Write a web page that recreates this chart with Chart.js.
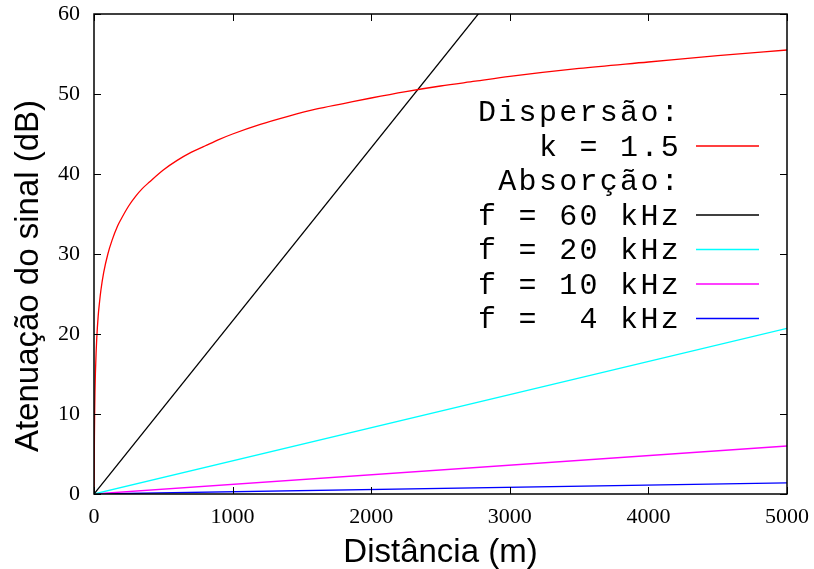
<!DOCTYPE html>
<html>
<head>
<meta charset="utf-8">
<script src="https://cdn.jsdelivr.net/npm/chart.js@4"></script>
<style>
  html, body { margin: 0; background: #fff; }
</style>
</head>
<body>
<canvas id="chart" width="814" height="569"></canvas>
<script>
// Spreading loss (k = 1.5)
const distSpread = [1, 2, 3, 5, 7, 10, 15, 20, 30, 40, 50, 70, 100, 130, 170, 200, 250, 300, 350, 400,
  500, 600, 700, 800, 900, 1000, 1200, 1400, 1600, 1800, 2000, 2250, 2500, 2750, 3000, 3500, 4000, 4500, 5000];
const attenSpread = [0, 4.5, 7.2, 10.5, 12.7, 15, 17.6, 19.5, 22.2, 24.0, 25.5, 27.7, 30, 31.7, 33.5, 34.5, 36.0, 37.2, 38.2, 39.0,
  40.5, 41.7, 42.7, 43.5, 44.3, 45.0, 46.2, 47.2, 48.1, 48.8, 49.5, 50.3, 51.0, 51.6, 52.2, 53.2, 54.0, 54.8, 55.5];

// Absorption lines (straight), end points at 0 m and 5000 m
const distAbs = [0, 5000];
const atten60k = [0, 108.2];
const atten20k = [0, 20.7];
const atten10k = [0, 6.0];
const atten4k = [0, 1.4];

const xTicks = [0, 1000, 2000, 3000, 4000, 5000];
const yTicks = [0, 10, 20, 30, 40, 50, 60];

const xTitle = 'Distância (m)';
const yTitle = 'Atenuação do sinal (dB)';

// Legend rows (header rows have no colour)
const legendLabels = ['Dispersão:', 'k = 1.5', 'Absorção:', 'f = 60 kHz', 'f = 20 kHz', 'f = 10 kHz', 'f =  4 kHz'];
const legendColors = [null, '#ff0000', null, '#000000', '#00ffff', '#ff00ff', '#0000ff'];

function toPoints(xs, ys) {
  return xs.map((x, i) => ({ x: x, y: ys[i] }));
}

// Border box and inward ticks on all four sides
const framePlugin = {
  id: 'frame',
  afterDatasetsDraw(chart) {
    const { ctx, chartArea: a, scales } = chart;
    ctx.save();
    ctx.strokeStyle = '#000';
    ctx.lineWidth = 1;
    ctx.beginPath();
    xTicks.forEach(v => {
      const px = Math.round(scales.x.getPixelForValue(v)) + 0.5;
      ctx.moveTo(px, a.bottom); ctx.lineTo(px, a.bottom - 7);
      ctx.moveTo(px, a.top); ctx.lineTo(px, a.top + 7);
    });
    yTicks.forEach(v => {
      const py = Math.round(scales.y.getPixelForValue(v)) + 0.5;
      ctx.moveTo(a.left, py); ctx.lineTo(a.left + 7, py);
      ctx.moveTo(a.right, py); ctx.lineTo(a.right - 7, py);
    });
    ctx.stroke();
    ctx.lineWidth = 1.5;
    ctx.strokeRect(a.left, a.top, a.right - a.left, a.bottom - a.top);
    ctx.restore();
  }
};

// Legend inside the plot + rotated y title
const extrasPlugin = {
  id: 'extras',
  afterDraw(chart) {
    const { ctx } = chart;
    ctx.save();
    ctx.fillStyle = '#000';
    ctx.font = '30px "Liberation Mono", monospace';
    ctx.letterSpacing = '2.3px';
    ctx.textAlign = 'right';
    ctx.textBaseline = 'middle';
    legendLabels.forEach((txt, i) => {
      const y = 111.5 + i * 34.5;
      ctx.fillText(txt, 681, y + 2);
      if (legendColors[i]) {
        ctx.strokeStyle = legendColors[i];
        ctx.lineWidth = 1.3;
        ctx.beginPath();
        ctx.moveTo(696, y);
        ctx.lineTo(759, y);
        ctx.stroke();
      }
    });
    ctx.letterSpacing = '0px';
    ctx.font = '33px "Liberation Sans", Arial, sans-serif';
    ctx.textAlign = 'center';
    ctx.translate(29, 276);
    ctx.rotate(-Math.PI / 2);
    ctx.fillText(yTitle, 0, 0);
    ctx.restore();
  }
};

const lineStyle = { borderWidth: 1.3, pointRadius: 0, fill: false, tension: 0 };
const plainLabel = v => String(v);

new Chart(document.getElementById('chart'), {
  type: 'line',
  data: {
    datasets: [
      { ...lineStyle, data: toPoints(distSpread, attenSpread), borderColor: '#ff0000', cubicInterpolationMode: 'monotone' },
      { ...lineStyle, data: toPoints(distAbs, atten60k), borderColor: '#000000' },
      { ...lineStyle, data: toPoints(distAbs, atten20k), borderColor: '#00ffff' },
      { ...lineStyle, data: toPoints(distAbs, atten10k), borderColor: '#ff00ff' },
      { ...lineStyle, data: toPoints(distAbs, atten4k), borderColor: '#0000ff' }
    ]
  },
  options: {
    responsive: false,
    animation: false,
    layout: { autoPadding: false, padding: { top: 14, right: 27, left: 0, bottom: 0 } },
    plugins: { legend: { display: false }, tooltip: { enabled: false } },
    scales: {
      x: {
        type: 'linear', min: 0, max: 5000,
        afterBuildTicks: s => { s.ticks = xTicks.map(v => ({ value: v })); },
        afterFit: s => { s.height = 75; s.paddingLeft = 0; s.paddingRight = 0; },
        grid: { display: false, drawTicks: false },
        border: { display: false },
        ticks: { color: '#000', padding: 10, maxRotation: 0, callback: plainLabel,
          font: { family: '"Liberation Serif", serif', size: 22 } },
        title: { display: true, text: xTitle, color: '#000', padding: 0,
          font: { family: '"Liberation Sans", Arial, sans-serif', size: 33, lineHeight: 1 } }
      },
      y: {
        min: 0, max: 60,
        afterBuildTicks: s => { s.ticks = yTicks.map(v => ({ value: v })); },
        afterFit: s => { s.width = 94; s.paddingTop = 0; s.paddingBottom = 0; },
        grid: { display: false, drawTicks: false },
        border: { display: false },
        ticks: { color: '#000', padding: 14, callback: plainLabel,
          font: { family: '"Liberation Serif", serif', size: 22 } }
      }
    }
  },
  plugins: [framePlugin, extrasPlugin]
});
</script>
</body>
</html>
